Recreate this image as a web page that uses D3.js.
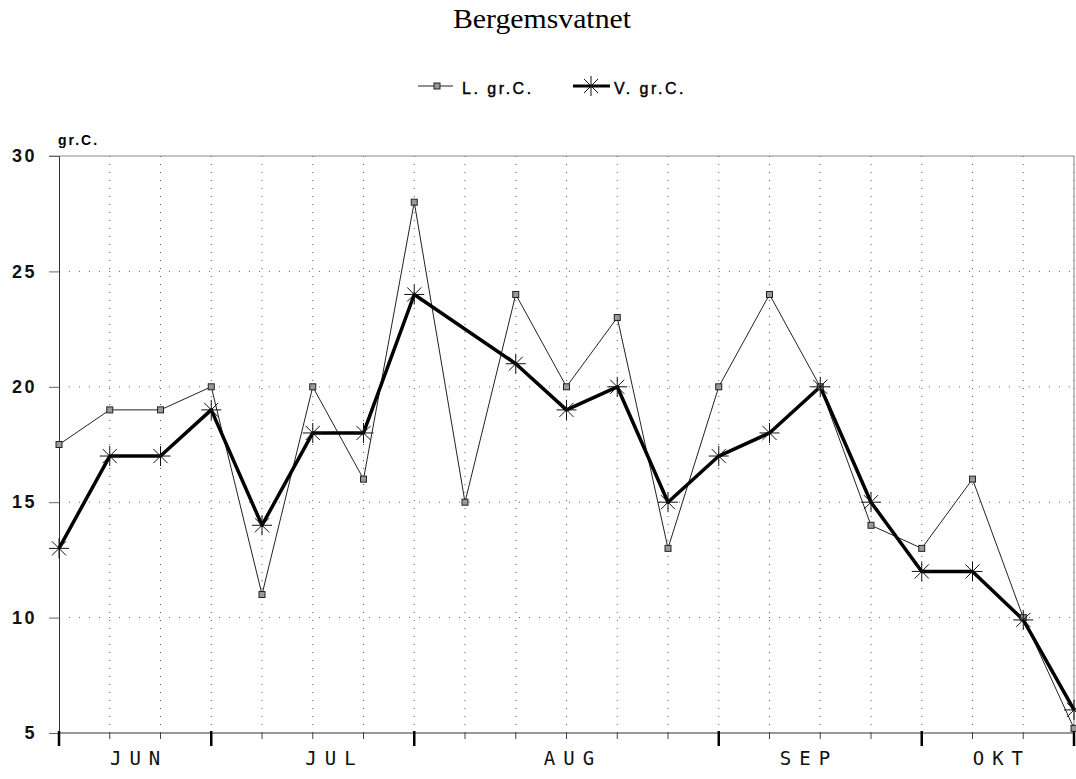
<!DOCTYPE html>
<html><head><meta charset="utf-8">
<script src="https://cdn.jsdelivr.net/npm/d3@7"></script>
<style>body{margin:0;background:#fff}</style>
</head><body>
<svg id="chart" width="1076" height="779"></svg>
<script>
const title = "Bergemsvatnet";
const seriesNames = ["L. gr.C.", "V. gr.C."];
const xIndex = [0,1,2,3,4,5,6,7,8,9,10,11,12,13,14,15,16,17,18,19,20];
const lValues = [17.5,19,19,20,11,20,16,28,15,24,20,23,13,20,24,20,14,13,16,10,5.2];
const vValues = [13,17,17,19,14,18,18,24,null,21,19,20,15,17,18,20,15,12,12,9.9,6];
const yTicks = [5,10,15,20,25,30];
const monthNames = ["JUN","JUL","AUG","SEP","OKT"];
const monthLabelPos = [1.5,5.35,10.05,14.7,18.5];
const monthBounds = [0,3,7,13,17,20];

const svg = d3.select("#chart");
const x = d3.scaleLinear().domain([0,20]).range([59,1074]);
const y = d3.scaleLinear().domain([5,30]).range([733,156]);

svg.append("text").attr("x",542).attr("y",28).attr("text-anchor","middle")
  .attr("font-family","Liberation Serif, serif").attr("font-size",27)
  .attr("textLength",178).attr("lengthAdjust","spacingAndGlyphs").text(title);

// grid
const g = svg.append("g");
g.selectAll(".vg").data(xIndex.slice(1)).enter().append("line")
  .attr("x1",d=>x(d)).attr("x2",d=>x(d)).attr("y1",y(30)).attr("y2",y(5))
  .attr("stroke","#555").attr("stroke-width",1).attr("stroke-dasharray","1,7");
g.selectAll(".hg").data(yTicks.filter(d=>d>5&&d<30)).enter().append("line")
  .attr("x1",x(0)).attr("x2",x(20)).attr("y1",d=>y(d)).attr("y2",d=>y(d))
  .attr("stroke","#666").attr("stroke-width",1).attr("stroke-dasharray","1,9");
// frame
g.append("line").attr("x1",x(0)-10).attr("x2",x(20)).attr("y1",y(30)).attr("y2",y(30)).attr("stroke","#888").attr("stroke-width",1);
g.append("line").attr("x1",x(20)).attr("x2",x(20)).attr("y1",y(30)).attr("y2",y(5)).attr("stroke","#888").attr("stroke-width",1);

// y axis
const yAxis = d3.axisLeft(y).tickValues(yTicks).tickSize(10).tickPadding(12);
const ya = svg.append("g").attr("transform",`translate(${x(0)},0)`).call(yAxis);
ya.select(".domain").attr("stroke","#333");
ya.selectAll(".tick line").attr("stroke","#666");
ya.selectAll("text").attr("font-family","Liberation Sans, Arial, sans-serif")
  .attr("font-size",18).attr("font-weight","bold").attr("letter-spacing",2.5).attr("fill","#111");
svg.append("text").attr("x",58).attr("y",145).attr("font-family","Liberation Sans, Arial, sans-serif")
  .attr("font-size",14).attr("font-weight","bold").attr("letter-spacing",2).text("gr.C.");

// x axis
const xa = svg.append("g").attr("transform",`translate(0,${y(5)})`);
xa.append("line").attr("x1",x(0)).attr("x2",x(20)).attr("stroke","#333");
xa.selectAll(".mt").data(xIndex).enter().append("line")
  .attr("x1",d=>x(d)).attr("x2",d=>x(d)).attr("y1",0).attr("y2",6)
  .attr("stroke","#444").attr("stroke-width",1);
xa.selectAll(".bt").data(monthBounds).enter().append("line")
  .attr("x1",d=>x(d)).attr("x2",d=>x(d)).attr("y1",-2).attr("y2",13)
  .attr("stroke","#000").attr("stroke-width",2.5);
xa.selectAll(".ml").data(monthNames).enter().append("text")
  .attr("x",(d,i)=>x(monthLabelPos[i])+4).attr("y",32).attr("text-anchor","middle")
  .attr("font-family","DejaVu Sans Mono, monospace").attr("font-size",19)
  .attr("letter-spacing",8).attr("fill","#111").text(d=>d);

// lines
const lineGen = d3.line().defined(d=>d.v!=null).x(d=>x(d.i)).y(d=>y(d.v));
const lData = xIndex.map((i,k)=>({i, v:lValues[k]}));
const vData = xIndex.map((i,k)=>({i, v:vValues[k]})).filter(d=>d.v!=null);
svg.append("path").datum(lData).attr("d",lineGen).attr("fill","none").attr("stroke","#222").attr("stroke-width",1);
svg.append("path").datum(vData).attr("d",lineGen).attr("fill","none").attr("stroke","#000").attr("stroke-width",3.5).attr("stroke-linejoin","round");

function square(sel,cx,cy){
  sel.append("rect").attr("x",cx-3).attr("y",cy-3).attr("width",6).attr("height",6)
    .attr("fill","#999").attr("stroke","#222").attr("stroke-width",1);
}
function star(sel,cx,cy,r){
  const gg = sel.append("g");
  for(let a=0;a<4;a++){
    const ang = a*Math.PI/4;
    gg.append("line").attr("x1",cx-r*Math.cos(ang)).attr("y1",cy-r*Math.sin(ang))
      .attr("x2",cx+r*Math.cos(ang)).attr("y2",cy+r*Math.sin(ang))
      .attr("stroke","#111").attr("stroke-width",1);
  }
}
lData.forEach(d=>square(svg,x(d.i),y(d.v)));
vData.forEach(d=>star(svg,x(d.i),y(d.v),10));

// legend
const lg = svg.append("g");
lg.append("line").attr("x1",418).attr("x2",453).attr("y1",86).attr("y2",86).attr("stroke","#222").attr("stroke-width",1);
square(lg,437,86);
lg.append("text").attr("x",462).attr("y",94).attr("font-family","Liberation Sans, Arial, sans-serif")
  .attr("font-size",16).attr("letter-spacing",2.5).attr("fill","#000").attr("stroke","#000").attr("stroke-width",0.4).text(seriesNames[0]);
lg.append("line").attr("x1",573).attr("x2",610).attr("y1",86).attr("y2",86).attr("stroke","#000").attr("stroke-width",3);
star(lg,591,86,10);
lg.append("text").attr("x",614).attr("y",94).attr("font-family","Liberation Sans, Arial, sans-serif")
  .attr("font-size",16).attr("letter-spacing",2.5).attr("fill","#000").attr("stroke","#000").attr("stroke-width",0.4).text(seriesNames[1]);
</script>
</body></html>
